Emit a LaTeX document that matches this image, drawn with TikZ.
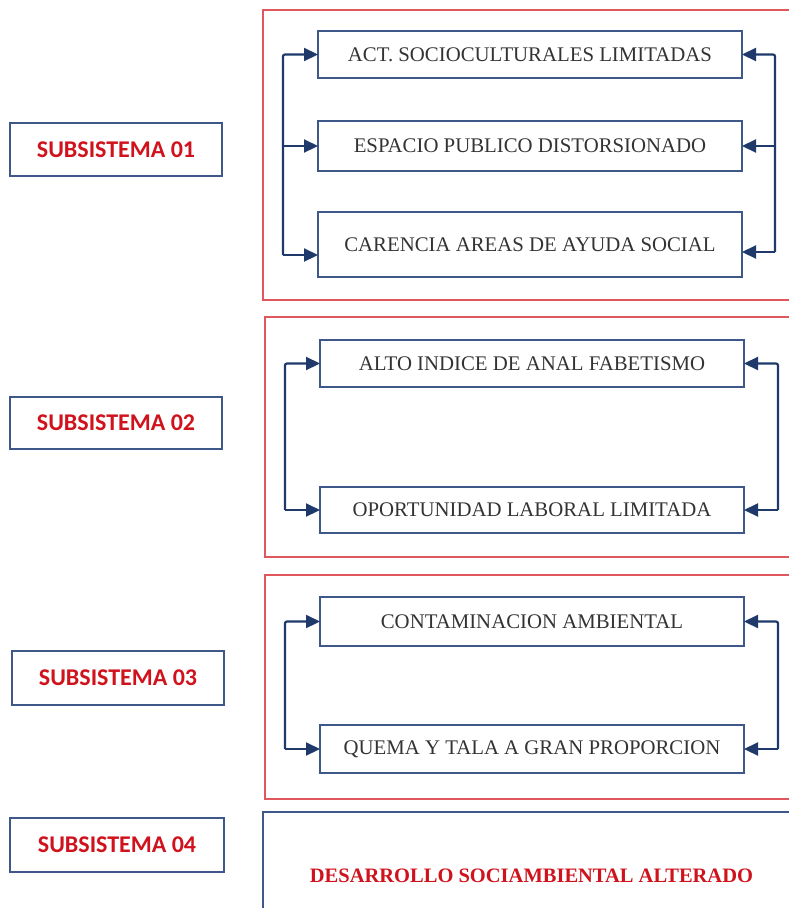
\documentclass[tikz,border=0pt]{standalone}
\usepackage{fontspec}
\setmainfont{Liberation Serif}
\newfontfamily\subfont{Carlito}
\usetikzlibrary{arrows.meta,positioning,calc}
\definecolor{navy}{HTML}{1F3A6A}
\definecolor{slate}{HTML}{3E5889}
\definecolor{rojo}{HTML}{D0121C}
\definecolor{marco}{HTML}{E0585E}
\definecolor{texto}{HTML}{333333}
\tikzstyle{subbox}  =[draw=slate, line width=2pt, minimum width=212pt,
                      minimum height=53pt, inner sep=0pt, outer sep=0pt,
                      text=rojo, font=\subfont\bfseries\fontsize{24}{28}\selectfont]
\tikzstyle{cause}   =[draw=slate, line width=2pt, minimum width=424pt,
                      minimum height=47pt, inner sep=0pt, outer sep=0pt,
                      text=texto, font=\fontsize{20.8}{24}\selectfont]
\tikzstyle{marcobox}=[draw=marco, line width=2pt]
\tikzstyle{link}    =[draw=navy, line width=2.2pt, rounded corners=2pt,
                      -{Triangle[length=14pt, width=13pt]}]

\begin{document}
\begin{tikzpicture}[x=1pt, y=-1pt]
    \useasboundingbox (0,0) rectangle (789,908);
    \clip (0,0) rectangle (789,908);
    % subsistema 01
    \draw[marcobox] (263,10) rectangle (800,300);
    \node (s1) [subbox] at (116,149.5) {SUBSISTEMA 01};
    \node (act) [cause] at (530,54.5) {ACT. SOCIOCULTURALES LIMITADAS};
    \node (esp) [cause, below=43pt of act, minimum height=50pt] {ESPACIO PUBLICO DISTORSIONADO};
    \node (car) [cause, below=41pt of esp, minimum height=65pt] {CARENCIA AREAS DE AYUDA SOCIAL};
    \coordinate (l1) at (283,255);
    \coordinate (r1) at (775,252);
    \draw[link] (l1) |- (act.west);
    \draw[link] (l1 |- esp.west) -- (esp.west);
    \draw[link] (l1) -- (car.west |- l1);
    \draw[link] (r1) |- (act.east);
    \draw[link] (r1 |- esp.east) -- (esp.east);
    \draw[link] (r1) -- (car.east |- r1);
    % subsistema 02
    \draw[marcobox] (265,317) rectangle (800,557);
    \node (s2) [subbox, minimum height=52pt] at (116,423) {SUBSISTEMA 02};
    \node (alto) [cause] at (532,363.5) {ALTO INDICE DE ANAL FABETISMO};
    \node (opo) [cause, below=100pt of alto, minimum height=46pt] {OPORTUNIDAD LABORAL LIMITADA};
    \coordinate (l2) at (285,0);
    \coordinate (r2) at (778,0);
    \draw[link] (l2 |- opo.west) |- (alto.west);
    \draw[link] (l2 |- opo.west) -- (opo.west);
    \draw[link] (r2 |- opo.east) |- (alto.east);
    \draw[link] (r2 |- opo.east) -- (opo.east);
    % subsistema 03
    \draw[marcobox] (265,575) rectangle (800,799);
    \node (s3) [subbox, minimum height=54pt] at (118,678) {SUBSISTEMA 03};
    \node (con) [cause, minimum height=49pt] at (532,621.5) {CONTAMINACION AMBIENTAL};
    \node (que) [cause, below=79pt of con, minimum height=48pt] {QUEMA Y TALA A GRAN PROPORCION};
    \coordinate (l3) at (285,0);
    \coordinate (r3) at (778,0);
    \draw[link] (l3 |- que.west) |- (con.west);
    \draw[link] (l3 |- que.west) -- (que.west);
    \draw[link] (r3 |- que.east) |- (con.east);
    \draw[link] (r3 |- que.east) -- (que.east);
    % subsistema 04
    \node (s4) [subbox, minimum width=214pt, minimum height=54pt] at (117,845) {SUBSISTEMA 04};
    \node (des) [cause, line width=2.4pt, minimum width=537pt, minimum height=128pt,
                 text=rojo, font=\bfseries\fontsize{20.5}{24}\selectfont] at (531.5,876)
                {DESARROLLO SOCIAMBIENTAL ALTERADO};
\end{tikzpicture}
\end{document}
